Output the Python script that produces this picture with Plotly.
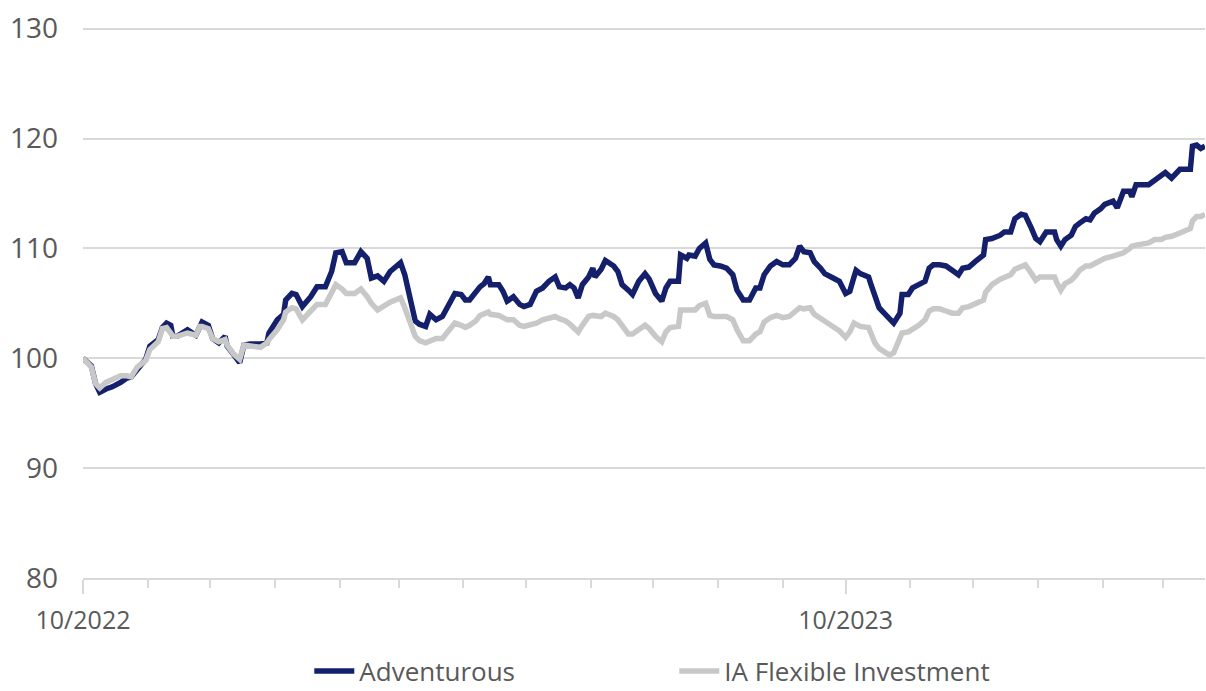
import pandas as pd
import plotly.graph_objects as go

start_date = "2022-10-01"
end_date = "2024-03-21"

# days since start of the axis
day_offsets = [
    0, 4, 6, 8, 11, 14, 18, 21, 23, 26, 30, 32, 36, 38, 40, 42, 43, 45, 49, 50,
    54, 56, 57, 60, 62, 65, 68, 69, 72, 75, 77, 80, 85, 88, 89, 93, 96, 97, 100, 102,
    105, 109, 112, 116, 119, 121, 124, 126, 130, 133, 136, 138, 141, 144, 147, 152, 154, 159, 161, 164,
    166, 169, 172, 176, 178, 181, 183, 185, 188, 190, 192, 194, 195, 199, 201, 203, 206, 209, 211, 214,
    217, 220, 223, 226, 228, 231, 233, 235, 237, 239, 242, 244, 245, 248, 250, 254, 256, 258, 261, 263,
    266, 269, 271, 274, 277, 279, 281, 285, 286, 289, 290, 293, 295, 298, 300, 302, 305, 308, 311, 313,
    316, 319, 322, 324, 326, 329, 332, 335, 338, 341, 343, 345, 348, 350, 353, 355, 359, 362, 365, 367,
    369, 370, 372, 376, 377, 379, 381, 384, 386, 388, 391, 392, 395, 397, 400, 403, 405, 407, 410, 413,
    416, 419, 421, 424, 427, 429, 431, 432, 435, 439, 441, 444, 446, 449, 451, 454, 456, 458, 461, 465,
    466, 468, 470, 473, 475, 477, 480, 482, 484, 487, 489, 493, 495, 498, 501, 502, 504, 510, 513, 516,
    518, 521, 525, 530, 531, 533, 535, 537,
]

adventurous = [
    100.0, 99.3, 97.7, 96.9, 97.2, 97.4, 97.8, 98.2, 98.3, 99.0, 99.9, 101.1, 101.7, 102.8, 103.2, 103.0, 102.0, 102.0, 102.4, 102.6,
    102.1, 103.0, 103.3, 103.0, 101.8, 101.4, 102.0, 101.1, 100.3, 99.6, 101.2, 101.3, 101.3, 101.4, 102.3, 103.5, 104.0, 105.3, 105.9, 105.8,
    104.7, 105.6, 106.5, 106.5, 107.9, 109.6, 109.7, 108.7, 108.7, 109.7, 109.1, 107.3, 107.5, 107.0, 107.9, 108.7, 107.6, 103.4, 103.1, 102.9,
    104.0, 103.5, 103.8, 105.3, 105.9, 105.8, 105.3, 105.3, 106.1, 106.5, 106.8, 107.4, 106.7, 106.7, 106.1, 105.2, 105.6, 104.9, 104.7, 104.9,
    106.1, 106.4, 107.0, 107.4, 106.5, 106.4, 106.7, 106.4, 105.5, 106.7, 107.4, 108.2, 107.4, 108.1, 108.9, 108.4, 107.9, 106.7, 106.2, 105.8,
    107.0, 107.7, 107.2, 105.9, 105.2, 106.4, 107.0, 107.0, 109.4, 109.1, 109.4, 109.3, 110.0, 110.5, 109.0, 108.5, 108.4, 108.2, 107.6, 106.2,
    105.3, 105.3, 106.4, 106.4, 107.6, 108.4, 108.8, 108.5, 108.5, 109.1, 110.2, 109.7, 109.6, 108.8, 108.2, 107.7, 107.3, 107.0, 105.9, 106.1,
    107.4, 108.0, 107.7, 107.4, 106.8, 105.5, 104.6, 104.0, 103.5, 103.2, 104.1, 105.8, 105.8, 106.4, 106.7, 107.0, 108.2, 108.5, 108.5, 108.4,
    108.0, 107.6, 108.2, 108.3, 108.8, 109.1, 109.4, 110.8, 110.9, 111.2, 111.5, 111.5, 112.7, 113.1, 113.0, 111.8, 110.9, 110.6, 111.5, 111.5,
    110.8, 110.2, 110.8, 111.2, 112.0, 112.3, 112.7, 112.6, 113.2, 113.6, 114.0, 114.3, 113.7, 115.2, 115.2, 114.7, 115.8, 115.8, 116.2, 116.6,
    116.9, 116.4, 117.2, 117.2, 119.3, 119.4, 119.1, 119.3,
]

ia_flexible = [
    100.0, 99.2, 97.7, 97.3, 97.8, 98.0, 98.4, 98.4, 98.3, 99.2, 99.8, 100.8, 101.5, 102.7, 102.8, 102.3, 102.0, 102.0, 102.3, 102.3,
    102.1, 102.9, 102.9, 102.7, 101.8, 101.5, 101.7, 101.2, 100.4, 99.9, 101.2, 101.1, 101.0, 101.4, 101.7, 102.6, 103.5, 104.2, 104.6, 104.5,
    103.5, 104.3, 104.9, 104.9, 105.9, 106.7, 106.3, 105.9, 105.9, 106.3, 105.6, 105.0, 104.4, 104.8, 105.1, 105.5, 104.6, 102.0, 101.6, 101.4,
    101.6, 101.8, 101.8, 102.7, 103.2, 103.0, 102.8, 103.0, 103.4, 103.9, 104.1, 104.2, 104.0, 103.9, 103.7, 103.5, 103.5, 103.0, 102.9, 103.0,
    103.2, 103.5, 103.7, 103.8, 103.6, 103.4, 103.1, 102.8, 102.4, 103.0, 103.8, 103.9, 103.9, 103.8, 104.1, 103.8, 103.5, 103.0, 102.2, 102.2,
    102.6, 103.0, 102.7, 102.0, 101.5, 102.4, 102.8, 102.9, 104.4, 104.4, 104.4, 104.4, 104.8, 105.0, 103.9, 103.8, 103.8, 103.8, 103.5, 102.6,
    101.6, 101.6, 102.2, 102.4, 103.3, 103.7, 103.9, 103.7, 103.8, 104.2, 104.6, 104.5, 104.6, 104.0, 103.6, 103.3, 102.9, 102.5, 101.9, 102.4,
    103.2, 103.1, 102.9, 102.8, 102.3, 101.4, 100.9, 100.6, 100.3, 100.5, 101.7, 102.3, 102.4, 102.6, 103.0, 103.5, 104.3, 104.5, 104.5, 104.3,
    104.1, 104.1, 104.6, 104.7, 104.9, 105.1, 105.3, 106.0, 106.7, 107.2, 107.4, 107.6, 108.1, 108.4, 108.5, 107.7, 107.1, 107.4, 107.4, 107.4,
    106.9, 106.2, 106.8, 107.1, 107.5, 108.0, 108.4, 108.4, 108.6, 108.9, 109.1, 109.3, 109.4, 109.6, 110.0, 110.2, 110.3, 110.5, 110.8, 110.8,
    111.0, 111.1, 111.4, 111.8, 112.5, 112.9, 112.9, 113.1,
]

y_ticks = [80, 90, 100, 110, 120, 130]
series_names = ["Adventurous", "IA Flexible Investment"]

dates = pd.to_datetime(start_date) + pd.to_timedelta(day_offsets, unit="D")

FONT = "Open Sans"
TEXT = "#595959"
GRID = "#D9D9D9"

fig = go.Figure()
fig.add_trace(go.Scatter(x=dates, y=adventurous, mode="lines", name=series_names[0],
                         line=dict(color="#14206B", width=5.5)))
fig.add_trace(go.Scatter(x=dates, y=ia_flexible, mode="lines", name=series_names[1],
                         line=dict(color="#C8C8C8", width=5.5)))

fig.update_layout(
    width=1206, height=691,
    margin=dict(l=83, r=1, t=27, b=113, autoexpand=False),
    paper_bgcolor="white", plot_bgcolor="white",
    font=dict(family=FONT, size=22, color=TEXT),
    showlegend=True,
    legend=dict(orientation="h", x=0.527, xanchor="center", y=-0.169, yanchor="middle",
                font=dict(size=26, color=TEXT), entrywidth=310, entrywidthmode="pixels",
                itemwidth=40),
)
fig.update_xaxes(
    type="date", range=[start_date, end_date],
    tick0=start_date, dtick="M12", tickformat="%m/%Y",
    ticks="outside", ticklen=14, tickcolor=GRID, tickwidth=1.5,
    minor=dict(dtick="M1", tick0=start_date, ticks="outside", ticklen=8, tickcolor=GRID, tickwidth=1.5, showgrid=False),
    showline=True, linecolor=GRID, linewidth=1.5,
    showgrid=False, zeroline=False,
    tickfont=dict(size=25, color=TEXT), ticklabelstandoff=5,
)
fig.update_yaxes(
    range=[80, 130.15], tickvals=y_ticks,
    showgrid=True, gridcolor=GRID, gridwidth=1.5,
    zeroline=False, showline=False, ticks="",
    tickfont=dict(size=28, color=TEXT), ticklabelstandoff=24,
)

fig.write_html("out.html", config={"displayModeBar": False},
               post_script="document.body.style.margin='0px';document.body.style.overflow='hidden';")
